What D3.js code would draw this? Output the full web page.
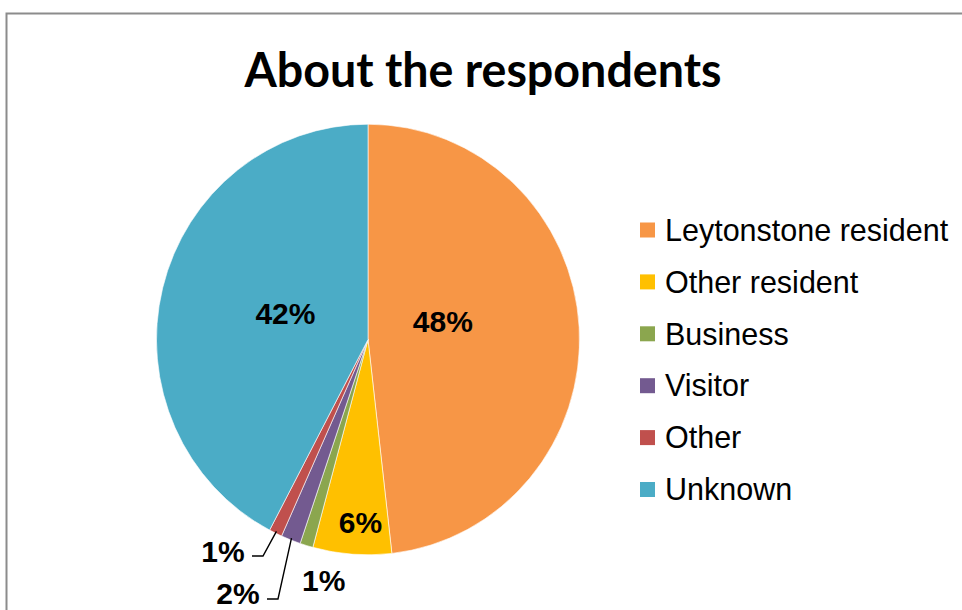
<!DOCTYPE html>
<html>
<head>
<meta charset="utf-8">
<script src="https://cdn.jsdelivr.net/npm/d3@7"></script>
<style>
  html, body { margin: 0; padding: 0; background: #fff; }
  svg { display: block; }
</style>
</head>
<body>
<svg id="chart" width="962" height="610"></svg>
<script>
// ---- data ----
const categories = ["Leytonstone resident", "Other resident", "Business", "Visitor", "Other", "Unknown"];
const values = [48.2, 6.0, 1.0, 1.5, 1.0, 42.3];
const colors = ["#F79646", "#FFC000", "#8BA64E", "#735A90", "#C0504D", "#4BACC6"];
const title = "About the respondents";

// ---- layout ----
const W = 962, H = 610;
const cx = 368, cy = 339.5, R = 211.5, sy = 1.018;
// label placement: radius from centre and small nudges (layout only)
const labelLayout = [
  { r: 75, dx: 0, dy: -14, leader: null },
  { r: 180, dx: 6, dy: 0, leader: null },
  { r: 245, dx: 27, dy: 2, leader: null },
  { r: 0, dx: 0, dy: 0, leader: { lx: 238, ly: 593, hx: 267, hy: 599 } },
  { r: 0, dx: 0, dy: 0, leader: { lx: 223, ly: 551, hx: 252, hy: 556 } },
  { r: 85, dx: 0, dy: -6, leader: null }
];

const svg = d3.select("#chart");

// outer frame
svg.append("rect")
  .attr("x", 6.5).attr("y", 13.5)
  .attr("width", W + 20).attr("height", H + 20)
  .attr("fill", "#fff")
  .attr("stroke", "#8c8c8c").attr("stroke-width", 2);

// title
svg.append("text")
  .attr("x", 483).attr("y", 87)
  .attr("text-anchor", "middle")
  .attr("font-family", "Lato, 'Open Sans', sans-serif")
  .attr("font-weight", "bold")
  .attr("font-size", 48)
  .attr("textLength", 477)
  .attr("lengthAdjust", "spacingAndGlyphs")
  .attr("fill", "#000")
  .text(title);

const data = categories.map((c, i) => ({ name: c, value: values[i], color: colors[i], i }));

const pie = d3.pie().value(d => d.value).sort(null);
const arcs = pie(data);
const arc = d3.arc().innerRadius(0).outerRadius(R);

const g = svg.append("g").attr("transform", `translate(${cx},${cy}) scale(1,${sy})`);

g.selectAll("path.slice")
  .data(arcs)
  .join("path")
  .attr("class", "slice")
  .attr("d", arc)
  .attr("fill", d => d.data.color)
  .attr("stroke", "#fff")
  .attr("stroke-width", 0.6);

const total = d3.sum(values);
const fmt = v => Math.round(v / total * 100) + "%";

arcs.forEach((a, i) => {
  const L = labelLayout[i];
  const mid = (a.startAngle + a.endAngle) / 2;
  let x, y;
  if (L.leader) {
    x = L.leader.lx; y = L.leader.ly;
    const ex = cx + Math.sin(mid) * (R - 2);
    const ey = cy - Math.cos(mid) * (R - 2) * sy;
    svg.append("polyline")
      .attr("points", `${ex},${ey} ${L.leader.hx + 11},${L.leader.hy} ${L.leader.hx},${L.leader.hy}`)
      .attr("fill", "none")
      .attr("stroke", "#000")
      .attr("stroke-width", 1.4);
  } else {
    x = cx + Math.sin(mid) * L.r + L.dx;
    y = cy - Math.cos(mid) * L.r * sy + L.dy;
  }
  svg.append("text")
    .attr("x", x).attr("y", y)
    .attr("dy", "0.36em")
    .attr("text-anchor", "middle")
    .attr("font-family", "'Liberation Sans', Arial, sans-serif")
    .attr("font-weight", "bold")
    .attr("font-size", 30)
    .attr("fill", "#000")
    .text(fmt(a.data.value));
});

// legend
const legendY = d3.scalePoint().domain(categories).range([230, 489.5]);
const lg = svg.append("g");
categories.forEach((c, i) => {
  const y = legendY(c);
  lg.append("rect")
    .attr("x", 640).attr("y", y - 7.5)
    .attr("width", 15).attr("height", 15)
    .attr("fill", colors[i]);
  lg.append("text")
    .attr("x", 665).attr("y", y + 10.7)
    .attr("font-family", "'Liberation Sans', Arial, sans-serif")
    .attr("font-size", 30.5)
    .attr("fill", "#000")
    .text(c);
});
</script>
</body>
</html>
